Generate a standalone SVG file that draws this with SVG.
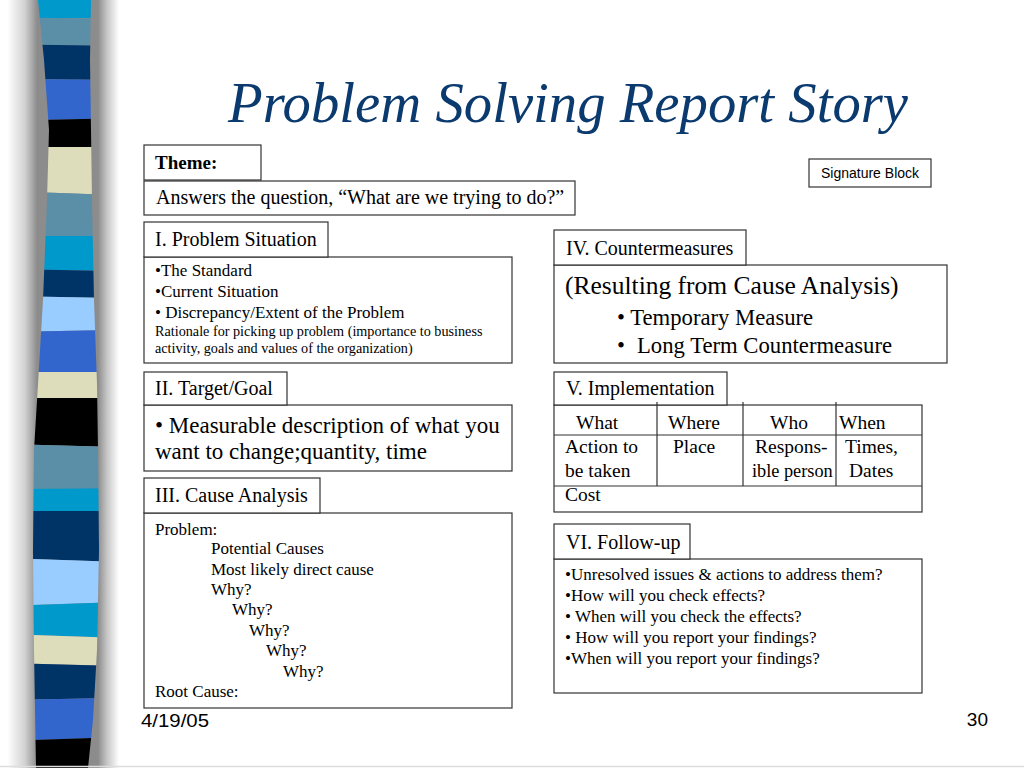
<svg xmlns="http://www.w3.org/2000/svg" width="1024" height="768" viewBox="0 0 1024 768">
<defs>
<linearGradient id="shadow" gradientUnits="userSpaceOnUse" x1="0" y1="0" x2="124" y2="0">
<stop offset="0.06" stop-color="#ffffff"/>
<stop offset="0.2" stop-color="#d2d2d2"/>
<stop offset="0.3" stop-color="#8c8c8c"/>
<stop offset="0.79" stop-color="#8c8c8c"/>
<stop offset="0.86" stop-color="#c4c4c4"/>
<stop offset="0.96" stop-color="#ffffff"/>
</linearGradient>
<clipPath id="barclip"><path d="M38,0 L44,60 L49,130 L47,200 L43,300 L38,384 L34,450 L33,550 L34,650 L36,768 L88,768 L93,720 L97,650 L99,550 L98,450 L97,384 L94,300 L92,200 L91,130 L90,60 L91,0 Z"/></clipPath>
<style>
.box{fill:#fff;stroke:#333;stroke-width:1.2}
.t{font-family:"Liberation Serif","Times New Roman",serif;fill:#000}
.h{font-size:20px}
.c{font-size:19.5px}
.s{font-size:17px}
.ln{stroke:#333;stroke-width:1.2}
</style>
</defs>
<rect width="1024" height="768" fill="#fff"/>
<g id="stripe-bar">
<rect x="0" y="0" width="124" height="768" fill="url(#shadow)"/>
<g clip-path="url(#barclip)">
<rect x="0" y="0" width="120" height="18" fill="#0099cc"/>
<polygon points="0,17 120,19 120,46 0,44" fill="#5b8fa8"/>
<polygon points="0,44 120,46 120,80 0,79" fill="#003366"/>
<polygon points="0,79 120,80 120,118 0,121" fill="#3366cc"/>
<polygon points="0,121 120,118 120,147 0,147" fill="#000"/>
<polygon points="0,147 120,147 120,195 0,191" fill="#ddddbb"/>
<polygon points="0,191 120,195 120,236 0,236" fill="#5b8fa8"/>
<polygon points="0,236 120,236 120,271 0,269" fill="#0099cc"/>
<polygon points="0,269 120,271 120,298 0,296" fill="#003366"/>
<polygon points="0,296 120,298 120,330 0,332" fill="#99ccff"/>
<polygon points="0,332 120,330 120,372 0,372" fill="#3366cc"/>
<polygon points="0,372 120,372 120,398 0,398" fill="#ddddbb"/>
<polygon points="0,398 120,398 120,447 0,444" fill="#000"/>
<polygon points="0,444 120,447 120,488 0,489" fill="#5b8fa8"/>
<polygon points="0,489 120,488 120,511 0,511" fill="#0099cc"/>
<polygon points="0,511 120,511 120,562 0,558" fill="#003366"/>
<polygon points="0,558 120,562 120,602 0,606" fill="#99ccff"/>
<polygon points="0,606 120,602 120,638 0,634" fill="#0099cc"/>
<polygon points="0,634 120,638 120,666 0,663" fill="#ddddbb"/>
<polygon points="0,663 120,666 120,698 0,700" fill="#003366"/>
<polygon points="0,700 120,698 120,737 0,741" fill="#3366cc"/>
<polygon points="0,741 120,737 120,768 0,768" fill="#000"/>
</g>
</g>
<line x1="0" y1="766.5" x2="1024" y2="766.5" stroke="#dddddd" stroke-width="1.5"/>
<text id="title" x="228" y="122" font-family="Liberation Serif, Times New Roman, serif" font-style="italic" font-size="56" fill="#0b3a6e" textLength="680" lengthAdjust="spacingAndGlyphs">Problem Solving Report Story</text>

<g id="theme">
<rect class="box" x="144" y="145" width="117" height="35"/>
<text class="t" x="155" y="169" font-size="19" font-weight="bold">Theme:</text>
</g>
<g id="theme-answer">
<rect class="box" x="144" y="181" width="431" height="34"/>
<text class="t h" x="156" y="204">Answers the question, “What are we trying to do?”</text>
</g>
<g id="signature-block">
<rect class="box" x="809" y="159" width="122" height="28"/>
<text x="870" y="178" text-anchor="middle" font-family="Liberation Sans, Arial, sans-serif" font-size="14" fill="#000">Signature Block</text>
</g>

<g id="problem-situation">
<rect class="box" x="144" y="257" width="368" height="106"/>
<rect class="box" x="144" y="222" width="184" height="35"/>
<text class="t h" x="155" y="246">I. Problem Situation</text>
<text class="t s" x="155" y="276">•The Standard</text>
<text class="t s" x="155" y="297">•Current Situation</text>
<text class="t s" x="155" y="318">• Discrepancy/Extent of the Problem</text>
<text class="t" x="155" y="336" font-size="14.2">Rationale for picking up problem (importance to business</text>
<text class="t" x="155" y="353" font-size="14.2">activity, goals and values of the organization)</text>
</g>

<g id="target-goal">
<rect class="box" x="144" y="405" width="368" height="66"/>
<rect class="box" x="144" y="372" width="143" height="33"/>
<text class="t h" x="155" y="395">II. Target/Goal</text>
<text class="t" x="155" y="433" font-size="23">• Measurable description of what you</text>
<text class="t" x="155" y="459" font-size="23">want to change;quantity, time</text>
</g>

<g id="cause-analysis">
<rect class="box" x="144" y="513" width="368" height="195"/>
<rect class="box" x="144" y="478" width="176" height="35"/>
<text class="t h" x="155" y="502">III. Cause Analysis</text>
<text class="t s" x="155" y="535">Problem:</text>
<text class="t s" x="211" y="554">Potential Causes</text>
<text class="t s" x="211" y="575">Most likely direct cause</text>
<text class="t s" x="211" y="595">Why?</text>
<text class="t s" x="232" y="615">Why?</text>
<text class="t s" x="249" y="636">Why?</text>
<text class="t s" x="266" y="656">Why?</text>
<text class="t s" x="283" y="677">Why?</text>
<text class="t s" x="155" y="697">Root Cause:</text>
</g>

<g id="countermeasures">
<rect class="box" x="554" y="265" width="393" height="98"/>
<rect class="box" x="554" y="230" width="192" height="35"/>
<text class="t h" x="566" y="255">IV. Countermeasures</text>
<text class="t" x="565" y="294" font-size="25.5">(Resulting from Cause Analysis)</text>
<text class="t" x="617" y="325" font-size="22.7">• Temporary Measure</text>
<text class="t" x="617" y="353" font-size="22.7">•</text>
<text class="t" x="637" y="353" font-size="22.7">Long Term Countermeasure</text>
</g>

<g id="implementation">
<rect class="box" x="554" y="405" width="368" height="107"/>
<rect class="box" x="554" y="372" width="173" height="33"/>
<text class="t h" x="566" y="395">V. Implementation</text>
<line class="ln" x1="554" y1="435" x2="922" y2="435"/>
<line class="ln" x1="554" y1="486" x2="922" y2="486"/>
<line class="ln" x1="657" y1="402" x2="657" y2="486"/>
<line class="ln" x1="743" y1="402" x2="743" y2="486"/>
<line class="ln" x1="836" y1="402" x2="836" y2="486"/>
<text class="t c" x="576" y="429">What</text>
<text class="t c" x="668" y="429">Where</text>
<text class="t c" x="770" y="429">Who</text>
<text class="t c" x="839" y="429">When</text>
<text class="t c" x="565" y="453">Action to</text>
<text class="t c" x="565" y="477">be taken</text>
<text class="t c" x="673" y="453">Place</text>
<text class="t c" x="755" y="453">Respons-</text>
<text class="t" x="752" y="477" font-size="18.3">ible person</text>
<text class="t c" x="845" y="453">Times,</text>
<text class="t c" x="849" y="477">Dates</text>
<text class="t c" x="565" y="501">Cost</text>
</g>

<g id="follow-up">
<rect class="box" x="554" y="559" width="368" height="134"/>
<rect class="box" x="554" y="524" width="136" height="35"/>
<text class="t h" x="566" y="549">VI. Follow-up</text>
<text class="t s" x="565" y="580">•Unresolved issues &amp; actions to address them?</text>
<text class="t s" x="565" y="601">•How will you check effects?</text>
<text class="t s" x="565" y="622">• When will you check the effects?</text>
<text class="t s" x="565" y="643">• How will you report your findings?</text>
<text class="t s" x="565" y="664">•When will you report your findings?</text>
</g>

<g id="connectors"></g>

<g id="footer">
<text x="141" y="727" font-family="Liberation Sans, Arial, sans-serif" font-size="19" fill="#000" textLength="68" lengthAdjust="spacingAndGlyphs">4/19/05</text>
<text x="988" y="726" text-anchor="end" font-family="Liberation Sans, Arial, sans-serif" font-size="19" fill="#000">30</text>
</g>
</svg>
